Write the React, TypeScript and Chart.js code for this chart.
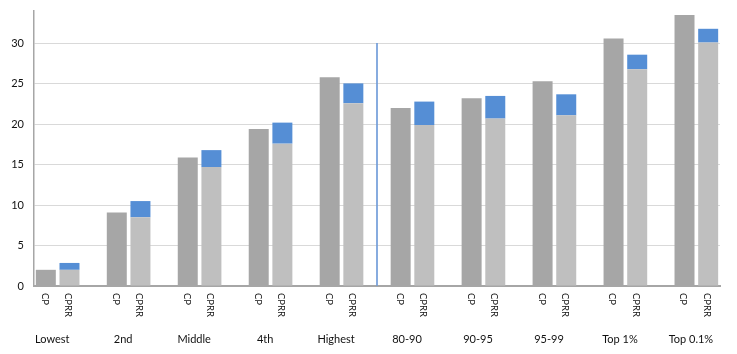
import React, { useEffect, useRef } from "react";
import { Chart, registerables } from "chart.js";

Chart.register(...registerables);

const groups = ["Lowest", "2nd", "Middle", "4th", "Highest", "80-90", "90-95", "95-99", "Top 1%", "Top 0.1%"];
const barNames = ["CP", "CPRR"];
const cpValues = [2.0, 9.1, 15.9, 19.4, 25.8, 22.0, 23.2, 25.3, 30.6, 33.5];
const cprrBase = [2.0, 8.5, 14.7, 17.6, 22.6, 19.9, 20.7, 21.1, 26.8, 30.1];
const cprrTotal = [2.85, 10.5, 16.8, 20.2, 25.05, 22.8, 23.5, 23.7, 28.6, 31.8];
const separatorAfterGroup = 4;
const separatorValue = 30;
const yMax = 34;
const yStep = 5;

const FONT = "Lato, 'Open Sans', sans-serif";

function buildSlots() {
  const labels: string[] = [];
  const cp: (number | null)[] = [];
  const base: (number | null)[] = [];
  const delta: (number | null)[] = [];
  const sep: (number | null)[] = [];
  groups.forEach((g, i) => {
    labels.push(barNames[0]);
    cp.push(cpValues[i]); base.push(null); delta.push(null); sep.push(null);
    labels.push(barNames[1]);
    cp.push(null); base.push(cprrBase[i]); delta.push(+(cprrTotal[i] - cprrBase[i]).toFixed(2)); sep.push(null);
    if (i < groups.length - 1) {
      labels.push("");
      cp.push(null); base.push(null); delta.push(null);
      sep.push(i === separatorAfterGroup ? separatorValue : null);
    }
  });
  return { labels, cp, base, delta, sep };
}

const labelPlugin = {
  id: "customLabels",
  afterDraw(chart: any) {
    const ctx = chart.ctx;
    const xs = chart.scales.x;
    const labels: string[] = chart.data.labels;
    const slot = xs.getPixelForValue(1) - xs.getPixelForValue(0);
    const bottom = chart.chartArea.bottom;
    ctx.save();
    ctx.fillStyle = "#111";
    ctx.font = `9.5px ${FONT}`;
    ctx.textAlign = "left";
    ctx.textBaseline = "middle";
    labels.forEach((l, i) => {
      if (!l) return;
      const x = xs.getPixelForValue(i) - 1;
      ctx.save();
      ctx.translate(x, bottom + 7);
      ctx.rotate(Math.PI / 2);
      ctx.fillText(l, 0, 0);
      ctx.restore();
    });
    ctx.font = `11px ${FONT}`;
    ctx.textAlign = "center";
    groups.forEach((g, i) => {
      const x = xs.getPixelForValue(i * 3) + slot * 0.27;
      ctx.fillText(g, x, bottom + 53);
    });
    ctx.restore();
  },
};

export default function App() {
  const ref = useRef<HTMLCanvasElement | null>(null);
  useEffect(() => {
    document.body.style.margin = "0";
    const { labels, cp, base, delta, sep } = buildSlots();
    const common = { barPercentage: 0.845, categoryPercentage: 1.0 };
    const chart = new Chart(ref.current!, {
      type: "bar",
      data: {
        labels,
        datasets: [
          { label: "CP", data: cp, backgroundColor: "#a6a6a6", ...common },
          { label: "CPRR", data: base, backgroundColor: "#bfbfbf", ...common },
          { label: "CPRR add", data: delta, backgroundColor: "#558ed5", ...common },
          { label: "sep", data: sep, backgroundColor: "#6f9bd9", barThickness: 1, categoryPercentage: 1.0 },
        ],
      },
      options: {
        responsive: false,
        animation: false,
        devicePixelRatio: 1,
        layout: { padding: { top: 11, right: 17, left: 0, bottom: 0 } },
        plugins: { legend: { display: false }, tooltip: { enabled: false } },
        scales: {
          x: {
            stacked: true,
            grid: { display: false },
            border: { display: true, color: "#a6a6a6", width: 2 },
            ticks: { display: false },
            afterFit: (s: any) => { s.height = 68; s.paddingLeft = 0; s.paddingRight = 0; },
          },
          y: {
            stacked: true,
            min: 0,
            max: yMax,
            ticks: {
              stepSize: yStep,
              includeBounds: false,
              padding: 10,
              color: "#111",
              font: { family: FONT, size: 11 },
            },
            grid: { color: "#d9d9d9", lineWidth: 1, drawTicks: false },
            border: { display: true, color: "#a6a6a6", width: 1.5 },
            afterFit: (s: any) => { s.width = 34; s.paddingTop = 0; s.paddingBottom = 0; },
          },
        },
      },
      plugins: [labelPlugin],
    } as any);
    return () => chart.destroy();
  }, []);
  return <canvas ref={ref} width={737} height={354} style={{ display: "block" }} />;
}
